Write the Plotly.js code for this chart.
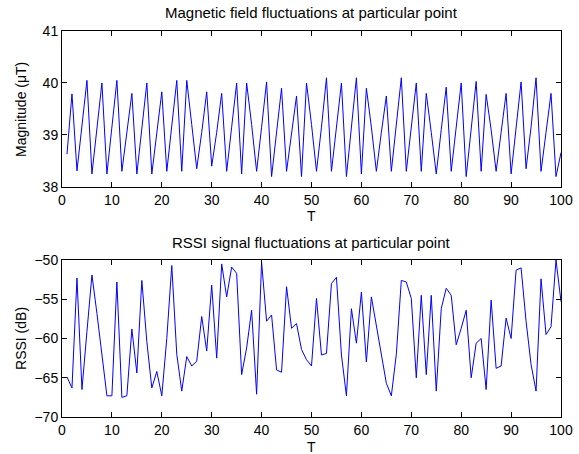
<!DOCTYPE html>
<html>
<head>
<meta charset="utf-8">
<script src="https://cdn.plot.ly/plotly-3.0.1.min.js"></script>
<style>html,body{margin:0;padding:0;background:#fff;}#chart{width:579px;height:454px;}</style>
</head>
<body>
<div id="chart"></div>
<script>
const T = Array.from({length: 100}, (_, i) => i + 1);

const magnitude = [
  38.63, 39.79, 38.31, 39.15, 40.05, 38.25, 39.10, 40.00, 38.25, 39.15,
  40.05, 38.30, 39.05, 39.80, 38.25, 39.15, 40.00, 38.25, 39.05, 39.83,
  38.30, 39.15, 40.05, 38.30, 40.05, 39.20, 38.35, 39.05, 39.83, 38.40,
  39.05, 39.80, 38.30, 39.15, 40.00, 38.25, 40.00, 39.20, 38.30, 39.15,
  40.02, 38.20, 39.10, 39.90, 38.30, 39.05, 39.75, 38.20, 40.00, 39.20,
  38.30, 39.15, 40.10, 38.30, 39.15, 40.00, 38.20, 39.10, 40.10, 38.25,
  39.90, 39.15, 38.30, 39.05, 39.75, 38.30, 39.15, 40.10, 38.30, 39.15,
  40.00, 38.30, 39.80, 39.05, 38.25, 39.10, 39.92, 38.30, 39.15, 40.00,
  38.20, 39.10, 40.03, 38.30, 39.78, 39.10, 38.30, 39.05, 39.80, 38.25,
  39.15, 40.02, 38.35, 39.15, 40.10, 38.30, 39.05, 39.80, 38.20, 38.66
];

const rssi = [
  -64.9, -66.3, -52.3, -66.5, -59.1, -51.9, -56.8, -62.1, -67.3, -67.3,
  -52.8, -67.5, -67.3, -58.8, -64.4, -52.6, -60.4, -66.3, -64.2, -67.3,
  -60.0, -50.7, -62.0, -66.7, -62.3, -63.5, -62.9, -57.2, -61.6, -53.2,
  -62.5, -50.5, -54.7, -50.9, -51.7, -64.6, -61.2, -56.4, -67.1, -50.3,
  -57.8, -57.0, -64.0, -64.3, -53.4, -58.7, -58.1, -61.4, -62.7, -63.5,
  -54.9, -62.1, -61.9, -53.0, -52.2, -62.1, -67.3, -56.2, -60.6, -54.1,
  -63.0, -54.7, -58.5, -62.1, -65.7, -67.3, -62.0, -52.6, -52.8, -54.9,
  -65.0, -54.5, -64.6, -54.5, -66.7, -56.2, -53.6, -54.5, -60.8, -58.7,
  -56.4, -65.0, -60.6, -60.0, -66.5, -55.1, -63.8, -63.5, -57.4, -60.0,
  -51.3, -51.0, -57.8, -63.3, -66.7, -52.4, -59.5, -58.5, -50.0, -55.3
];

const xTicks = [0, 10, 20, 30, 40, 50, 60, 70, 80, 90, 100];
const magTicks = [38, 39, 40, 41];
const rssiTicks = [-70, -65, -60, -55, -50];

const titleTop = 'Magnetic field fluctuations at particular point';
const titleBottom = 'RSSI signal fluctuations at particular point';
const xLabel = 'T';
const yLabelTop = 'Magnitude (μT)';
const yLabelBottom = 'RSSI (dB)';

const fam = 'Liberation Sans, Arial, sans-serif';
const fs = 15;
const tfs = 14;
const font = {family: fam, size: fs, color: '#000'};

const axisCommon = {
  showline: true, linecolor: '#000', linewidth: 1, mirror: 'allticks',
  ticks: 'inside', ticklen: 5, tickcolor: '#000', showgrid: false, zeroline: false,
  tickfont: {family: fam, size: tfs, color: '#000'}
};

const data = [
  {x: T, y: magnitude, type: 'scatter', mode: 'lines', line: {color: '#0000ff', width: 1}, xaxis: 'x', yaxis: 'y', hoverinfo: 'skip'},
  {x: T, y: rssi, type: 'scatter', mode: 'lines', line: {color: '#0000ff', width: 1}, xaxis: 'x2', yaxis: 'y2', hoverinfo: 'skip'}
];

function ann(text, x, y, angle, size) {
  return {text: text, xref: 'paper', yref: 'paper', x: x, y: y, xanchor: 'center', yanchor: 'middle',
    showarrow: false, textangle: angle || 0, font: {family: fam, size: size || fs, color: '#000'}};
}

const layout = {
  width: 579, height: 454,
  margin: {l: 62, r: 18, t: 31, b: 37},
  paper_bgcolor: '#fff', plot_bgcolor: '#fff',
  showlegend: false,
  font: font,
  xaxis: Object.assign({}, axisCommon, {domain: [0, 1], range: [0, 100], tickvals: xTicks, anchor: 'y'}),
  yaxis: Object.assign({}, axisCommon, {domain: [0.596, 1], range: [38, 41], tickvals: magTicks, anchor: 'x'}),
  xaxis2: Object.assign({}, axisCommon, {domain: [0, 1], range: [0, 100], tickvals: xTicks, anchor: 'y2'}),
  yaxis2: Object.assign({}, axisCommon, {domain: [0, 0.4067], range: [-70, -50], tickvals: rssiTicks, anchor: 'x2'}),
  annotations: [
    ann(titleTop, 0.499, 1.049),
    ann(titleBottom, 0.499, 0.4508),
    ann(xLabel, 0.499, 0.521, 0, 14),
    ann(xLabel, 0.499, -0.0788, 0, 14),
    ann(yLabelTop, -0.0822, 0.798, -90, 14),
    ann(yLabelBottom, -0.0822, 0.2047, -90, 14)
  ]
};

Plotly.newPlot('chart', data, layout, {staticPlot: true, displayModeBar: false});
</script>
</body>
</html>
